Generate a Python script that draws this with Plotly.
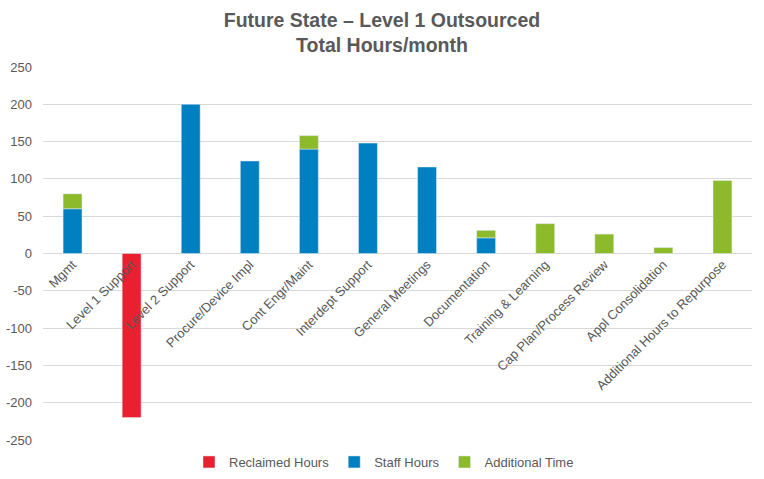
import plotly.graph_objects as go

categories = ["Mgmt", "Level 1 Support", "Level 2 Support", "Procure/Device Impl",
              "Cont Engr/Maint", "Interdept Support", "General Meetings", "Documentation",
              "Training & Learning", "Cap Plan/Process Review", "Appl Consolidation",
              "Additional Hours to Repurpose"]
reclaimed_hours = [None, -220, None, None, None, None, None, None, None, None, None, None]
staff_hours = [60, None, 200, 124, 140, 148, 116, 21, None, None, None, None]
additional_time = [20, None, None, None, 18, None, None, 10, 40, 26, 8, 98]
y_ticks = [-250, -200, -150, -100, -50, 0, 50, 100, 150, 200, 250]
y_tick_labels = [str(v) for v in y_ticks]

font_family = "Liberation Sans, Arial, sans-serif"
grey = "#595959"

fig = go.Figure()
fig.add_trace(go.Bar(name="Reclaimed Hours", x=categories, y=reclaimed_hours,
                     marker=dict(color="#E8202F")))
fig.add_trace(go.Bar(name="Staff Hours", x=categories, y=staff_hours,
                     marker=dict(color="#0080C0")))
fig.add_trace(go.Bar(name="Additional Time", x=categories, y=additional_time,
                     marker=dict(color="#8CBA2A")))

fig.update_layout(
    width=764, height=479,
    barmode="relative", bargap=0.68,
    paper_bgcolor="white", plot_bgcolor="white",
    margin=dict(l=43, r=12, t=67, b=39, autoexpand=False),
    font=dict(family=font_family, color=grey, size=13),
    title=dict(text="<b>Future State – Level 1 Outsourced<br>Total Hours/month</b>",
               x=0.5, xanchor="center", yref="container", y=1 - 27 / 479, yanchor="middle",
               font=dict(size=19.5, color=grey, family=font_family)),
    showlegend=True,
    legend=dict(orientation="h", x=(384 - 43) / 709, xanchor="center", yref="container",
                y=1 - 462 / 479, yanchor="middle",
                font=dict(size=13, color=grey), traceorder="normal", itemwidth=30),
    xaxis=dict(anchor="free", position=0.5, tickangle=-45, showgrid=False,
               showline=False, ticks="", tickfont=dict(size=13, color=grey)),
    yaxis=dict(range=[-250, 250], tickvals=y_ticks, ticktext=y_tick_labels, showgrid=True,
               gridcolor="#D9D9D9", gridwidth=1, zeroline=True,
               zerolinecolor="#D9D9D9", zerolinewidth=1, ticks="",
               tickfont=dict(size=13, color=grey), ticklabelstandoff=10),
)

fig.write_html("out.html")
